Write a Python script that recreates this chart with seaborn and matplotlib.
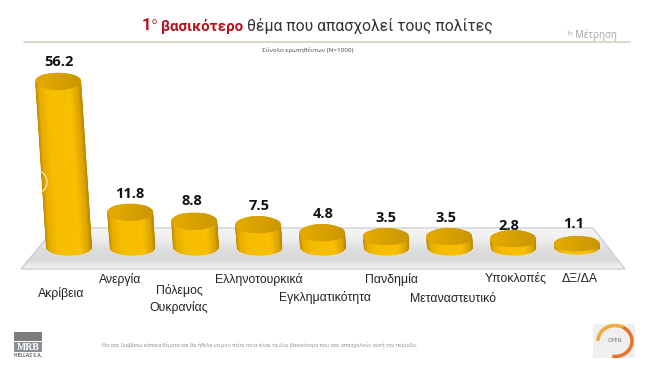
import numpy as np
import pandas as pd
import seaborn as sns
import matplotlib
matplotlib.use('Agg')
import matplotlib.pyplot as plt
from matplotlib.colors import LinearSegmentedColormap
from matplotlib.patches import Arc, Ellipse, Polygon, Rectangle
from matplotlib.transforms import Affine2D

# dados do grafico
categorias = ['Ακρίβεια', 'Ανεργία', 'Πόλεμος\nΟυκρανίας', 'Ελληνοτουρκικά', 'Εγκληματικότητα',
              'Πανδημία', 'Μεταναστευτικό', 'Υποκλοπές', 'ΔΞ/ΔΑ']
valores = [56.2, 11.8, 8.8, 7.5, 4.8, 3.5, 3.5, 2.8, 1.1]
rotulos_valor = ['56.2', '11.8', '8.8', '7.5', '4.8', '3.5', '3.5', '2.8', '1.1']

# ajustes de layout (pixels)
label_pos = [(61, 293), (120, 280), (179, 299), (259, 279), (325, 298), (392, 280), (453, 299), (516, 279), (580, 279)]
valor_dx = [1, 0, -2, 1, 1, 0, -3, -4, -3]
valor_dy = [-19, -18, -20, -19, -19, -19, -19, -13, -20]

W, H = 650, 382
BASE_Y = 247
PX_POR_UNIDADE = 2.95
CENTRO_0, PASSO = 69, 63.5
INCLINACAO = 0.065

sns.set_theme(style='white')
plt.rcParams['font.family'] = ['Open Sans', 'DejaVu Sans']

fig = plt.figure(figsize=(W / 100, H / 100), dpi=100, facecolor='white')

# eixo dos dados, alinhado com os cilindros
ax_h = 200
ax = fig.add_axes([(CENTRO_0 - PASSO / 2) / W, (H - BASE_Y) / H, 9 * PASSO / W, ax_h / H])
df = pd.DataFrame({'categoria': categorias, 'valor': valores})
sns.barplot(data=df, x='categoria', y='valor', color='#f2b800', width=0.72, saturation=1, ax=ax)
ax.set_xlim(-0.5, 8.5)
ax.set_ylim(0, ax_h / PX_POR_UNIDADE)
ax.axis('off')

# eixo em pixels para o resto
ov = fig.add_axes([0, 0, 1, 1], zorder=2)
ov.set_xlim(0, W)
ov.set_ylim(H, 0)
ov.axis('off')
ov.patch.set_alpha(0)

# linha do titulo
ov.plot([24, 630], [42, 42], color='#d9d6c3', lw=1.3)

# piso cinza
piso = Polygon([(55, 228), (593, 228), (625, 269), (21, 269)], closed=True, fc='none', ec='#c9ccd0', lw=0.9)
ov.add_patch(piso)
cmap_piso = LinearSegmentedColormap.from_list('piso', ['#f6f6f6', '#efefef', '#dedede', '#d8d8d8', '#f7f7f7'])
img = ov.imshow(np.linspace(0, 1, 60).reshape(-1, 1), extent=(20, 626, 270, 228), cmap=cmap_piso, aspect='auto', zorder=0.5)
img.set_clip_path(piso)
ov.set_xlim(0, W)
ov.set_ylim(H, 0)

cmap_corpo = LinearSegmentedColormap.from_list(
    'corpo', [(0, '#bd8e06'), (0.07, '#e6ad00'), (0.25, '#f6bd00'), (0.75, '#f8c000'), (0.93, '#dca300'), (1, '#b58604')])
cmap_topo = LinearSegmentedColormap.from_list('topo', ['#e4ac00', '#d9a100', '#c99603'])


def para_px(x, y):
    px = ax.transData.transform((x, y))
    return ov.transData.inverted().transform(px)


for i, barra in enumerate(ax.patches):
    x0 = barra.get_x()
    largura = barra.get_width()
    altura = barra.get_height()
    base_esq = para_px(x0, 0)
    base_dir = para_px(x0 + largura, 0)
    topo = para_px(x0, altura)
    y_base, y_topo = base_esq[1], topo[1]
    cx = (base_esq[0] + base_dir[0]) / 2
    w = (base_dir[0] - base_esq[0]) / 2
    ry = 8.5 if altura > 2 else 7.5
    desvio = INCLINACAO * (y_base - y_topo)

    # mesma inclinacao no retangulo do seaborn
    y0_disp = ax.transData.transform((0, 0))[1]
    barra.set_transform(ax.transData + Affine2D.from_values(1, 0, -INCLINACAO, 1, INCLINACAO * y0_disp, 0))

    # contorno do corpo do cilindro
    t = np.linspace(np.pi, 0, 40)
    arco = np.column_stack([cx + w * np.cos(t), y_base + ry * np.sin(t)])
    contorno = np.vstack([[(cx - w - desvio, y_topo)], arco, [(cx + w - desvio, y_topo)]])
    corpo = Polygon(contorno, closed=True, fc='#f2b800', ec='none', zorder=2)
    ov.add_patch(corpo)

    # degrade horizontal
    u = np.linspace(0, 1, 40)
    v = np.linspace(y_topo - 1, y_base + ry + 1, 12)
    U, Y = np.meshgrid(u, v)
    X = cx - w + 2 * w * U - INCLINACAO * (y_base - Y)
    malha = ov.pcolormesh(X, Y, U, cmap=cmap_corpo, shading='gouraud', zorder=2.1)
    malha.set_clip_path(corpo)

    # tampa
    tampa = Ellipse((cx - desvio, y_topo), 2 * w, 2 * ry, fc='#dba500', ec='none', zorder=3)
    ov.add_patch(tampa)
    xt = np.linspace(cx - desvio - w, cx - desvio + w, 20)
    yt = np.linspace(y_topo - ry, y_topo + ry, 2)
    XT, YT = np.meshgrid(xt, yt)
    m2 = ov.pcolormesh(XT, YT, (XT - XT.min()) / (XT.max() - XT.min()), cmap=cmap_topo, shading='gouraud', zorder=3.1)
    m2.set_clip_path(tampa)

    ov.text(cx - desvio + valor_dx[i], y_topo + valor_dy[i], rotulos_valor[i], ha='center', va='center',
            fontsize=10.5, fontweight='bold', color='#111111', zorder=5)

    ov.text(label_pos[i][0], label_pos[i][1], categorias[i], ha='center', va='center', fontsize=8.8,
            family='Liberation Sans', color='#222222', linespacing=1.45)

# pequeno arco branco no primeiro cilindro
ov.add_patch(Arc((35, 182), 24, 24, theta1=-70, theta2=70, ec='#f5e6b0', lw=0.9, zorder=4))

# titulo em partes
ov.text(142, 26, '1', color='#b5121b', fontsize=12, fontweight='bold', family='Roboto', ha='left', va='center')
ov.text(151.5, 22, 'ο', color='#b5121b', fontsize=6.5, family='Roboto', ha='left', va='center')
ov.text(160.7, 26, 'βασικότερο', color='#b5121b', fontweight='bold', fontsize=10.9, family='Roboto', ha='left', va='center')
ov.text(247, 26, 'θέμα που απασχολεί τους πολίτες', color='#333333', fontsize=11.3, family='Roboto', ha='left', va='center')

ov.text(570, 34, '1η', fontsize=4, color='#a5a5a5', ha='center', va='center')
ov.text(596, 35, 'Μέτρηση', fontsize=7, color='#a5a5a5', ha='center', va='center')
ov.text(308, 50, 'Σύνολο ερωτηθέντων (Ν=1000)', fontsize=4.5, color='#444444', ha='center', va='center')
ov.text(260, 345, 'Θα σας διαβάσω κάποια θέματα και θα ήθελα να μου πείτε ποια είναι τα δύο βασικότερα που σας απασχολούν αυτή την περίοδο.',
        fontsize=3.75, color='#8a8a8a', ha='center', va='center')

# logo MRB
ov.add_patch(Rectangle((14, 332), 28, 9, fc='#7d7d7d', ec='none'))
ov.add_patch(Rectangle((14, 342), 28, 10, fc='#8b8f93', ec='none'))
ov.text(28, 347, 'MRB', fontsize=7, family='Liberation Serif', fontweight='bold', color='white', ha='center', va='center')
ov.text(28, 355.5, 'HELLAS S.A.', fontsize=3.5, fontweight='bold', color='#666666', ha='center', va='center')

# logo OPEN
ov.add_patch(Rectangle((593, 324), 42, 34, fc='#efefef', ec='none'))
ov.add_patch(Arc((615, 341), 34, 31, theta1=180, theta2=300, ec='#f0a93b', lw=2.5))
ov.add_patch(Arc((615, 341), 34, 31, theta1=300, theta2=460, ec='#e8742a', lw=2.5))
ov.text(615, 340, 'OPEN', fontsize=4, color='#5f6b78', ha='center', va='center')

plt.savefig('out.png', dpi=100)
